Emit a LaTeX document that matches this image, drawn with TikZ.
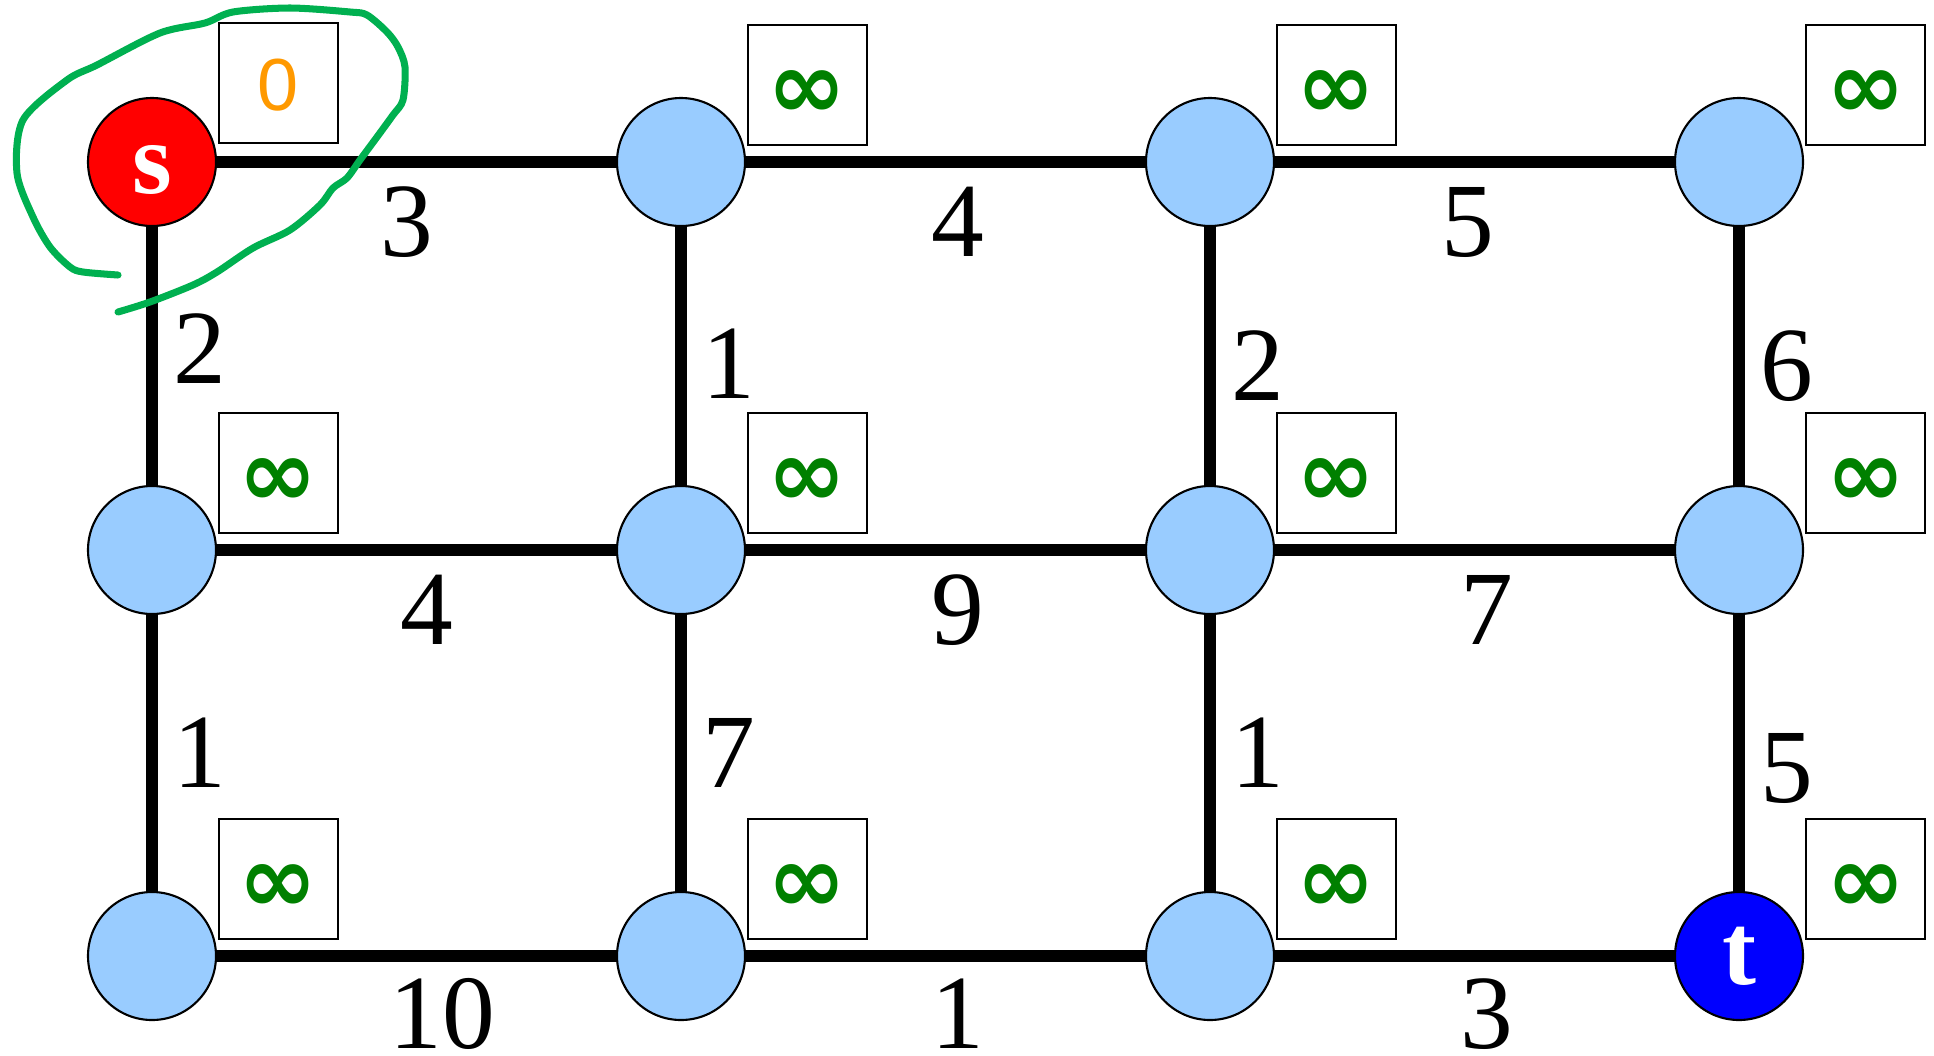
\documentclass[tikz,border=0pt]{standalone}
\usepackage{fontspec}
\setmainfont{Liberation Serif}
\newfontfamily\symfont{DejaVu Sans}
\newfontfamily\arialfont{Liberation Sans}
\usetikzlibrary{positioning}
\definecolor{nodeblue}{RGB}{153,204,255}
\definecolor{infgreen}{RGB}{0,128,0}
\definecolor{zeroorange}{RGB}{255,153,0}
\definecolor{markgreen}{RGB}{0,176,80}
\tikzset{
  vtx/.style={circle, draw, line width=0.6pt, fill=nodeblue, minimum size=1.28cm, inner sep=0pt},
  dist/.style={draw, line width=0.6pt, minimum width=1.19cm, minimum height=1.2cm, inner sep=0pt, outer sep=0pt},
  edge/.style={line width=3.4pt},
  hw/.style={midway, inner sep=0pt, yshift=-0.60cm, xshift=0.12cm, font=\fontsize{30}{32}\selectfont},
  vw/.style={midway, inner sep=0pt, xshift=0.48cm, font=\fontsize{30}{32}\selectfont},
  inf/.style={text=infgreen, text height=0.66cm, text depth=0pt, font=\symfont\bfseries\fontsize{27}{30}\selectfont},
  ends/.style={text=white, font=\bfseries\fontsize{29}{30}\selectfont}
}
\begin{document}
\begin{tikzpicture}
        \useasboundingbox (0, 0) rectangle (19.34, 10.55);
        % vertices
        \node[vtx, fill=red, ends, text height=0.63cm, text depth=0pt] (s) at (1.52, 8.93) {s};
        \node[vtx] (n12) at (6.81, 8.93) {};
        \node[vtx] (n13) at (12.10, 8.93) {};
        \node[vtx] (n14) at (17.39, 8.93) {};
        \node[vtx] (n21) at (1.52, 5.05) {};
        \node[vtx] (n22) at (6.81, 5.05) {};
        \node[vtx] (n23) at (12.10, 5.05) {};
        \node[vtx] (n24) at (17.39, 5.05) {};
        \node[vtx] (n31) at (1.52, 0.99) {};
        \node[vtx] (n32) at (6.81, 0.99) {};
        \node[vtx] (n33) at (12.10, 0.99) {};
        \node[vtx, fill=blue, ends] (t) at (17.39, 0.99) {t};

        % edges
        \draw[edge] (s) -- node[hw, xshift=-0.22cm] {3} (n12);
        \draw[edge] (n12) -- node[hw] {4} (n13);
        \draw[edge] (n13) -- node[hw, xshift=-0.19cm] {5} (n14);
        \draw[edge] (n21) -- node[hw, xshift=-0.02cm] {4} (n22);
        \draw[edge] (n22) -- node[hw] {9} (n23);
        \draw[edge] (n23) -- node[hw] {7} (n24);
        \draw[edge] (n31) -- node[hw, xshift=0.14cm, yshift=0.02cm] {10} (n32);
        \draw[edge] (n32) -- node[hw, yshift=0.02cm] {1} (n33);
        \draw[edge] (n33) -- node[hw, yshift=0.02cm] {3} (t);
        \draw[edge] (s) -- node[vw, yshift=0.07cm] {2} (n21);
        \draw[edge] (n12) -- node[vw, yshift=-0.08cm] {1} (n22);
        \draw[edge] (n13) -- node[vw, yshift=-0.10cm] {2} (n23);
        \draw[edge] (n14) -- node[vw, yshift=-0.10cm] {6} (n24);
        \draw[edge] (n21) -- node[vw] {1} (n31);
        \draw[edge] (n22) -- node[vw] {7} (n32);
        \draw[edge] (n23) -- node[vw] {1} (n33);
        \draw[edge] (n24) -- node[vw, yshift=-0.15cm] {5} (t);

        % distance boxes
        \node[dist, above right=0.19cm and 0.67cm of s.center, text=zeroorange, text height=0.54cm, text depth=0pt, font=\arialfont\fontsize{21}{24}\selectfont] (ds) {0};
        \node[dist, inf, above right=0.17cm and 0.67cm of n12.center] (d12) {∞};
        \node[dist, inf, above right=0.17cm and 0.67cm of n13.center] (d13) {∞};
        \node[dist, inf, above right=0.17cm and 0.67cm of n14.center] (d14) {∞};
        \node[dist, inf, above right=0.17cm and 0.67cm of n21.center] (d21) {∞};
        \node[dist, inf, above right=0.17cm and 0.67cm of n22.center] (d22) {∞};
        \node[dist, inf, above right=0.17cm and 0.67cm of n23.center] (d23) {∞};
        \node[dist, inf, above right=0.17cm and 0.67cm of n24.center] (d24) {∞};
        \node[dist, inf, above right=0.17cm and 0.67cm of n31.center] (d31) {∞};
        \node[dist, inf, above right=0.17cm and 0.67cm of n32.center] (d32) {∞};
        \node[dist, inf, above right=0.17cm and 0.67cm of n33.center] (d33) {∞};
        \node[dist, inf, above right=0.17cm and 0.67cm of t.center] (dt) {∞};

        % hand-drawn mark round s
        \draw[markgreen, line width=2pt, line cap=round, line join=round] plot[smooth, tension=0.5] coordinates {
          (1.18,7.43) (1.50,7.53) (1.93,7.70) (2.17,7.83) (2.53,8.07) (2.90,8.25) (3.20,8.50)
          (3.33,8.67) (3.47,8.77) (3.60,8.95) (3.77,9.18) (3.93,9.40) (4.03,9.55) (4.05,9.88)
          (3.98,10.08) (3.87,10.23) (3.67,10.40) (3.50,10.43) (2.90,10.47) (2.33,10.43)
          (2.05,10.32) (1.60,10.22) (0.97,9.90) (0.67,9.75) (0.23,9.35) (0.17,8.82) (0.33,8.38)
          (0.50,8.08) (0.70,7.88) (0.83,7.83) (1.18,7.80)};
    \end{tikzpicture}
\end{document}
